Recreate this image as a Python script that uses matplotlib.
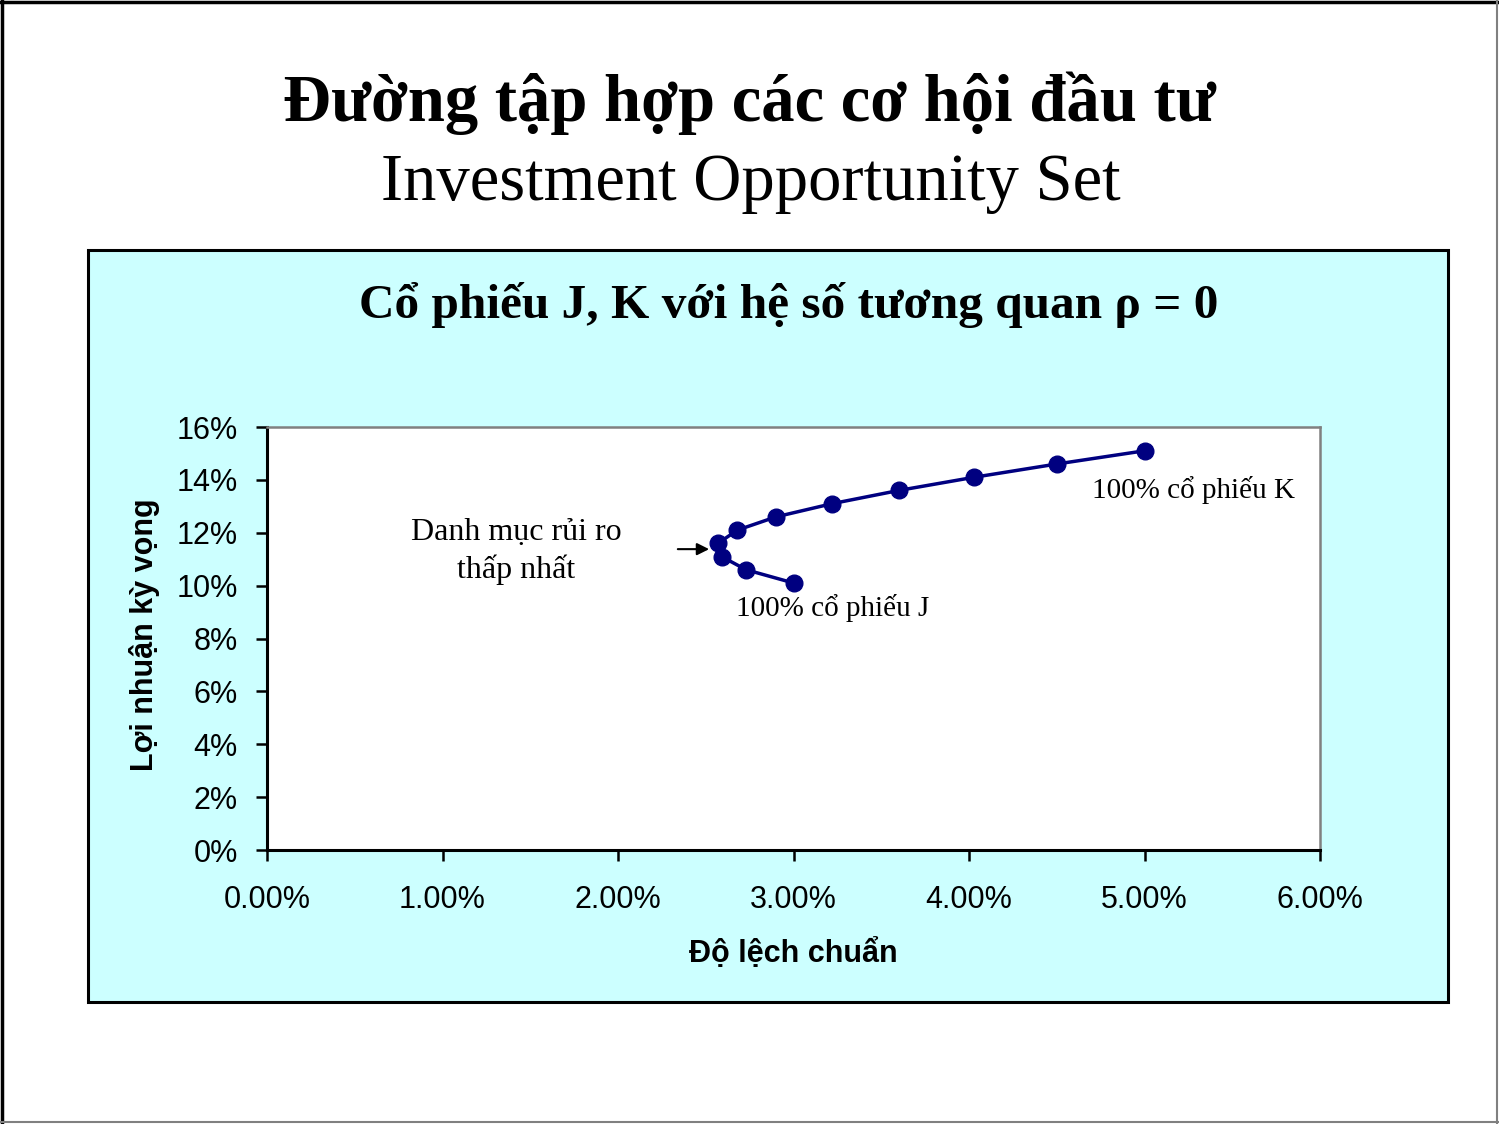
import matplotlib
matplotlib.use("Agg")
import matplotlib.pyplot as plt
from matplotlib.patches import Rectangle
from matplotlib.lines import Line2D

# Data (percent units)
std_dev = [3.00, 2.73, 2.59, 2.57, 2.68, 2.90, 3.22, 3.60, 4.03, 4.50, 5.00]
exp_ret = [10.1, 10.6, 11.1, 11.6, 12.1, 12.6, 13.1, 13.6, 14.1, 14.6, 15.1]
x_ticks = [0, 1, 2, 3, 4, 5, 6]
y_ticks = [0, 2, 4, 6, 8, 10, 12, 14, 16]

title = "Đường tập hợp các cơ hội đầu tư"
subtitle = "Investment Opportunity Set"
chart_title = "Cổ phiếu J, K với hệ số tương quan ρ = 0"
xlabel = "Độ lệch chuẩn"
ylabel = "Lợi nhuận kỳ vọng"
label_k = "100% cổ phiếu K"
label_j = "100% cổ phiếu J"
label_min = "Danh mục rủi ro\nthấp nhất"

W, H = 1499, 1124
fig = plt.figure(figsize=(W / 100, H / 100), dpi=100)
fig.patch.set_facecolor("white")

def fx(px):
    return px / W

def fy(py):
    return 1 - py / H

# slide border
fig.add_artist(Line2D([fx(1.5), fx(1.5)], [0, 1], color="black", lw=2.5, transform=fig.transFigure))
fig.add_artist(Line2D([0, 1], [fy(1.5), fy(1.5)], color="black", lw=2.5, transform=fig.transFigure))
fig.add_artist(Line2D([fx(1497), fx(1497)], [0, 1], color="#808080", lw=1.5, transform=fig.transFigure))
fig.add_artist(Line2D([0, 1], [fy(1122), fy(1122)], color="#808080", lw=1.5, transform=fig.transFigure))

# cyan chart box
box = Rectangle((fx(88), fy(1002)), fx(1448) - fx(88), fy(250) - fy(1002),
                transform=fig.transFigure, facecolor="#CCFFFF", edgecolor="black", lw=2.2, zorder=0)
fig.add_artist(box)

serif = ["Liberation Serif", "DejaVu Serif"]
sans = ["Liberation Sans", "DejaVu Sans"]

fig.text(0.5, fy(103), title, ha="center", va="center", fontsize=48, fontweight="bold", family=serif)
fig.text(fx(751), fy(183), subtitle, ha="center", va="center", fontsize=48, family=serif)
fig.text(fx(789), fy(305), chart_title, ha="center", va="center", fontsize=35.5, fontweight="bold", family=serif)

ax = fig.add_axes([fx(267), fy(850), fx(1320) - fx(267), fy(427) - fy(850)])
ax.set_facecolor("white")
ax.plot(std_dev, exp_ret, color="#000080", lw=2.5, marker="o", markersize=12, zorder=3, clip_on=False)

ax.set_xlim(0, 6)
ax.set_ylim(0, 16)
ax.set_xticks(x_ticks)
ax.set_yticks(y_ticks)
ax.set_xticklabels([f"{v:.2f}%" for v in x_ticks], family=sans, fontsize=22)
ax.set_yticklabels([f"{v}%" for v in y_ticks], family=sans, fontsize=22)
ax.tick_params(axis="both", direction="out", length=8, width=1.8, color="black")
ax.tick_params(axis="x", pad=17.5)
ax.tick_params(axis="y", pad=13)
for s in ["left", "bottom"]:
    ax.spines[s].set_color("black")
    ax.spines[s].set_linewidth(2.2)
for s in ["top", "right"]:
    ax.spines[s].set_color("#808080")
    ax.spines[s].set_linewidth(1.8)

fig.text(fx(793), fy(954), xlabel, ha="center", va="center", fontsize=22, fontweight="bold", family=sans)
fig.text(fx(145), fy(635), ylabel, ha="center", va="center", fontsize=22, fontweight="bold", family=sans, rotation=90)

ax.text(4.70, 13.6, label_k, ha="left", va="center", fontsize=21, family=serif)
ax.text(2.67, 9.15, label_j, ha="left", va="center", fontsize=21, family=serif)
ax.text(1.42, 11.3, label_min, ha="center", va="center", fontsize=23, family=serif, linespacing=1.32)
ax.annotate("", xy=(2.535, 11.38), xytext=(2.325, 11.38),
            arrowprops=dict(arrowstyle="-|>", color="black", lw=1.5, mutation_scale=18))

fig.savefig("out.png", dpi=100)
